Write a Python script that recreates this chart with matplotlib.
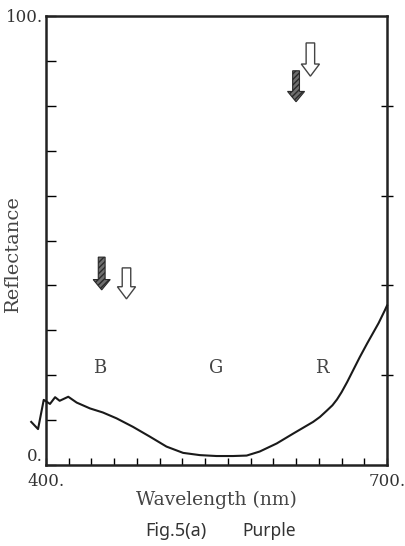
import matplotlib
matplotlib.use('Agg')
import numpy as np
from matplotlib import pyplot as plt
from matplotlib.patches import FancyArrow

# Reflectance spectrum (nm, %).
wavelength = [387, 393, 398, 400.6, 403.5, 408, 412, 419.6, 427, 438.7, 450, 462,
              476.5, 491.5, 506, 520.6, 535.4, 550, 564.6, 576.5, 588, 603, 617.5,
              635, 641, 647, 652, 656, 660, 665, 670, 676, 682.6, 692.6, 698, 700]
reflectance = [9.6, 8.0, 14.5, 14.1, 13.6, 15.1, 14.3, 15.2, 13.9, 12.6, 11.7, 10.4,
               8.5, 6.3, 4.1, 2.7, 2.2, 2.0, 2.0, 2.1, 3.0, 4.8, 7.0,
               9.6, 10.7, 12.1, 13.3, 14.6, 16.2, 18.5, 21.0, 24.0, 27.1, 31.6, 34.4, 35.5]

band_labels = ['B', 'G', 'R']
band_x = [447.5, 550, 642.5]
band_y = 21.6

# Arrows: (centre wavelength, top, bottom) in data units.
hatched_arrows = [(620, 87.8, 80.9), (449, 46.3, 39.0)]
white_arrows = [(632.6, 94.0, 86.6), (470.8, 43.9, 37.0)]

serif = 'DejaVu Serif'

fig = plt.figure(figsize=(4.06, 5.46), dpi=100)
ax = fig.add_axes([46 / 406, 81 / 546, 341 / 406, 449 / 546])

ax.plot(wavelength, reflectance, color='#1a1a1a', lw=1.5, clip_on=False, zorder=5)
ax.set_xlim(400, 700)
ax.set_ylim(0, 100)

for s in ax.spines.values():
    s.set_linewidth(1.8)
    s.set_color('#222222')

ax.set_xticks(np.arange(400, 701, 20))
ax.set_xticklabels(['400.'] + [''] * 14 + ['700.'])
ax.set_yticks(np.arange(0, 101, 10))
ax.set_yticklabels(['0.'] + [''] * 9 + ['100.'])
ax.tick_params(axis='x', direction='in', length=5, width=1, pad=6, labelsize=12)
ax.tick_params(axis='y', direction='in', length=7, width=1, pad=2, labelsize=12)
for lab in ax.get_xticklabels() + ax.get_yticklabels():
    lab.set_family(serif)
    lab.set_color('#333333')
ax.get_yticklabels()[0].set_verticalalignment('bottom')

right = ax.secondary_yaxis('right')
right.set_yticks(np.arange(20, 100, 20))
right.set_yticklabels([])
right.tick_params(direction='inout', length=8, width=1)
right.spines['right'].set_visible(False)

for lbl, x in zip(band_labels, band_x):
    ax.text(x, band_y, lbl, ha='center', va='center', family=serif,
            fontsize=13, color='#444444')

for x, top, bottom in hatched_arrows:
    ax.add_patch(FancyArrow(x, top, 0, bottom - top, width=6, head_width=15,
                            head_length=2.3, length_includes_head=True,
                            facecolor='#6e6e6e', edgecolor='#2a2a2a',
                            hatch='//////', lw=0.8, zorder=4))
for x, top, bottom in white_arrows:
    ax.add_patch(FancyArrow(x, top, 0, bottom - top, width=7.5, head_width=16,
                            head_length=2.7, length_includes_head=True,
                            facecolor='white', edgecolor='#444444',
                            lw=1.0, zorder=4))

ax.set_ylabel('Reflectance', family=serif, fontsize=14, color='#444444')
ax.yaxis.set_label_coords(-0.07, 0.47)
ax.set_xlabel('Wavelength (nm)', family=serif, fontsize=13.5, color='#444444', labelpad=0)
fig.text(145 / 406, 1 - 531 / 546, 'Fig.5(a)', ha='left', va='center',
         family='Noto Sans', fontsize=13, color='#333333')
fig.text(242 / 406, 1 - 531 / 546, 'Purple', ha='left', va='center',
         family='Noto Sans', fontsize=12.5, color='#333333')

fig.savefig('out.png', dpi=100)
